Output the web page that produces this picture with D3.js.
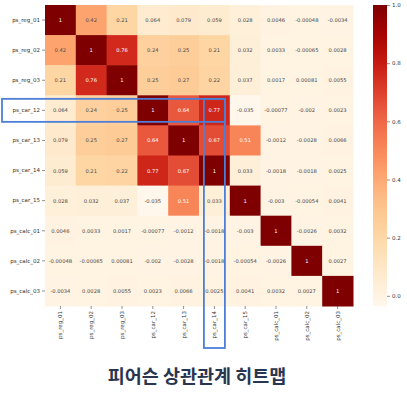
<!DOCTYPE html>
<html>
<head>
<meta charset="utf-8">
<script src="https://cdn.jsdelivr.net/npm/d3@7/dist/d3.min.js"></script>
<style>
  html, body { margin: 0; padding: 0; background: #ffffff; }
  svg { display: block; }
</style>
</head>
<body>
<svg id="chart" width="407" height="393"></svg>
<script>
const labels = ["ps_reg_01","ps_reg_02","ps_reg_03","ps_car_12","ps_car_13","ps_car_14","ps_car_15","ps_calc_01","ps_calc_02","ps_calc_03"];
const row0 = [1, 0.42, 0.21, 0.064, 0.079, 0.059, 0.028, 0.0046, -0.00048, -0.0034];
const row1 = [0.42, 1, 0.76, 0.24, 0.25, 0.21, 0.032, 0.0033, -0.00065, 0.0028];
const row2 = [0.21, 0.76, 1, 0.25, 0.27, 0.22, 0.037, 0.0017, 0.00081, 0.0055];
const row3 = [0.064, 0.24, 0.25, 1, 0.64, 0.77, -0.035, -0.00077, -0.002, 0.0023];
const row4 = [0.079, 0.25, 0.27, 0.64, 1, 0.67, 0.51, -0.0012, -0.0028, 0.0066];
const row5 = [0.059, 0.21, 0.22, 0.77, 0.67, 1, 0.033, -0.0018, -0.0018, 0.0025];
const row6 = [0.028, 0.032, 0.037, -0.035, 0.51, 0.033, 1, -0.003, -0.00054, 0.0041];
const row7 = [0.0046, 0.0033, 0.0017, -0.00077, -0.0012, -0.0018, -0.003, 1, -0.0026, 0.0032];
const row8 = [-0.00048, -0.00065, 0.00081, -0.002, -0.0028, -0.0018, -0.00054, -0.0026, 1, 0.0027];
const row9 = [-0.0034, 0.0028, 0.0055, 0.0023, 0.0066, 0.0025, 0.0041, 0.0032, 0.0027, 1];
const colorbarTicks = [0.0, 0.2, 0.4, 0.6, 0.8, 1.0];
const title = "피어슨 상관관계 히트맵";
const highlightRow = "ps_car_12";
const highlightCol = "ps_car_14";

const matrix = [row0,row1,row2,row3,row4,row5,row6,row7,row8,row9];
const cells = [];
matrix.forEach((r, i) => r.forEach((v, j) => cells.push({row: labels[i], col: labels[j], v})));

const svg = d3.select("#chart");
const gridL = 45, gridR = 353, gridT = 5, gridB = 306;
const vmin = d3.min(cells, d => d.v), vmax = 1;

const x = d3.scaleBand().domain(labels).range([gridL, gridR]);
const y = d3.scaleBand().domain(labels).range([gridT, gridB]);
const color = d3.scaleSequential(d3.interpolateOrRd).domain([vmin, vmax]);

const font = "DejaVu Sans, sans-serif";

// cells
svg.append("g").selectAll("rect").data(cells).join("rect")
  .attr("x", d => x(d.col)).attr("y", d => y(d.row))
  .attr("width", x.bandwidth() + 0.5).attr("height", y.bandwidth() + 0.5)
  .attr("fill", d => color(d.v));

function lum(c) {
  const rgb = d3.rgb(c);
  const f = u => { u /= 255; return u <= 0.03928 ? u / 12.92 : Math.pow((u + 0.055) / 1.055, 2.4); };
  return 0.2126 * f(rgb.r) + 0.7152 * f(rgb.g) + 0.0722 * f(rgb.b);
}

// annotations
svg.append("g").selectAll("text").data(cells).join("text")
  .attr("x", d => x(d.col) + x.bandwidth() / 2)
  .attr("y", d => y(d.row) + y.bandwidth() / 2)
  .attr("text-anchor", "middle").attr("dominant-baseline", "central")
  .attr("font-family", font).attr("font-size", 5.2)
  .attr("fill", d => lum(color(d.v)) > 0.408 ? "#4a4a4a" : "#fff")
  .text(d => String(d.v));

// axes
const yAxis = d3.axisLeft(y).tickSize(3).tickPadding(2);
const gy = svg.append("g").attr("transform", `translate(${gridL},0)`).call(yAxis);
gy.select(".domain").remove();
gy.selectAll("line").attr("stroke", "#444").attr("stroke-width", 0.6);
gy.selectAll("text").attr("font-family", font).attr("font-size", 5.5).attr("fill", "#333");

const xAxis = d3.axisBottom(x).tickSize(3).tickPadding(2);
const gx = svg.append("g").attr("transform", `translate(0,${gridB})`).call(xAxis);
gx.select(".domain").remove();
gx.selectAll("line").attr("stroke", "#444").attr("stroke-width", 0.6);
gx.selectAll("text").attr("font-family", font).attr("font-size", 5.5).attr("fill", "#333")
  .attr("transform", "rotate(-90)").attr("text-anchor", "end")
  .attr("dy", null).attr("x", -5).attr("y", 0).attr("dominant-baseline", "central");

// colorbar
const cbL = 373, cbW = 14;
const cy = d3.scaleLinear().domain([vmin, vmax]).range([gridB, gridT]);
const defs = svg.append("defs");
const grad = defs.append("linearGradient").attr("id", "cbgrad")
  .attr("x1", 0).attr("y1", 1).attr("x2", 0).attr("y2", 0);
d3.range(0, 1.0001, 0.05).forEach(t => {
  grad.append("stop").attr("offset", t).attr("stop-color", color(vmin + t * (vmax - vmin)));
});
svg.append("rect").attr("x", cbL).attr("y", gridT).attr("width", cbW).attr("height", gridB - gridT)
  .attr("fill", "url(#cbgrad)");
const cbAxis = d3.axisRight(cy).tickValues(colorbarTicks).tickFormat(d3.format(".1f")).tickSize(3).tickPadding(2);
const gc = svg.append("g").attr("transform", `translate(${cbL + cbW},0)`).call(cbAxis);
gc.select(".domain").remove();
gc.selectAll("line").attr("stroke", "#444").attr("stroke-width", 0.6);
gc.selectAll("text").attr("font-family", font).attr("font-size", 5.5).attr("fill", "#333");

// highlight boxes
const blue = "#4d7fd6";
const ry = y(highlightRow) + y.bandwidth() / 2;
const cx = x(highlightCol) + x.bandwidth() / 2;
svg.append("rect").attr("x", 2).attr("y", ry - 11.5)
  .attr("width", cx + 10.5 - 2).attr("height", 23)
  .attr("fill", "none").attr("stroke", blue).attr("stroke-width", 1.8);
svg.append("rect").attr("x", cx - 10.5).attr("y", ry - 11.5)
  .attr("width", 21).attr("height", 348 - (ry - 11.5))
  .attr("fill", "none").attr("stroke", blue).attr("stroke-width", 1.8);

// title
svg.append("text").attr("x", 197).attr("y", 383)
  .attr("text-anchor", "middle")
  .attr("font-family", "Noto Sans CJK KR, sans-serif").attr("font-weight", "bold")
  .attr("font-size", 18.5).attr("fill", "#2a3550")
  .text(title);
</script>
</body>
</html>
